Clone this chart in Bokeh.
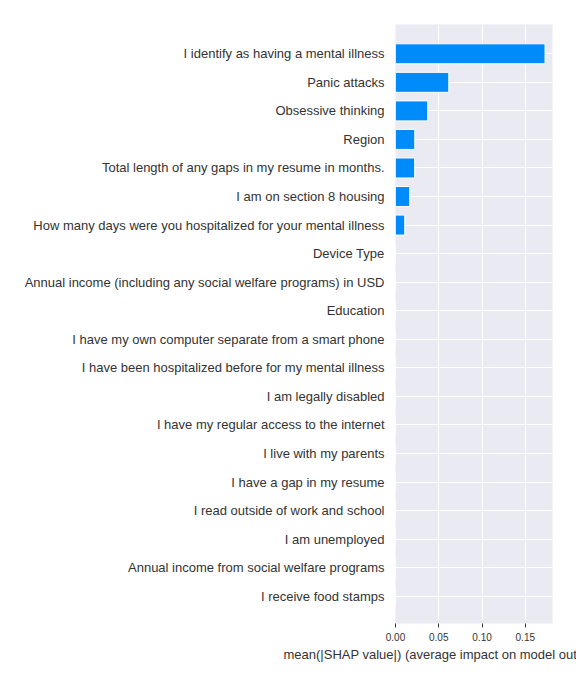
from bokeh.plotting import figure
from bokeh.models import Range1d, FixedTicker, NumeralTickFormatter, ColumnDataSource, Title
from bokeh.embed import file_html
from bokeh.resources import INLINE

features = [
    "I identify as having a mental illness",
    "Panic attacks",
    "Obsessive thinking",
    "Region",
    "Total length of any gaps in my resume in months.",
    "I am on section 8 housing",
    "How many days were you hospitalized for your mental illness",
    "Device Type",
    "Annual income (including any social welfare programs) in USD",
    "Education",
    "I have my own computer separate from a smart phone",
    "I have been hospitalized before for my mental illness",
    "I am legally disabled",
    "I have my regular access to the internet",
    "I live with my parents",
    "I have a gap in my resume",
    "I read outside of work and school",
    "I am unemployed",
    "Annual income from social welfare programs",
    "I receive food stamps",
]
mean_abs_shap = [0.1728, 0.0616, 0.0373, 0.0223, 0.0222, 0.0165, 0.0107,
                 0, 0, 0, 0, 0, 0, 0, 0, 0, 0, 0, 0, 0]
x_ticks = [0.0, 0.05, 0.10, 0.15]
# the axis title as it is visible in the reference (cut at the window edge)
x_label = "mean(|SHAP value|) (average impact on model out"

n = len(features)
ypos = [n - 1 - i for i in range(n)]
src = ColumnDataSource(dict(y=ypos, v=mean_abs_shap, name=features))

FONT = "Liberation Sans"
TXT = "#333333"

y_lo, y_hi = -0.956, n - 1 + 1.026
p = figure(width=576, height=684, output_backend="svg", toolbar_location=None,
           x_range=Range1d(0, max(mean_abs_shap) * 1.05),
           y_range=Range1d(y_lo, y_hi),
           min_border_left=395, min_border_right=24,
           min_border_top=24, min_border_bottom=61)
p.background_fill_color = "#EAEAF2"
p.border_fill_color = "white"
p.outline_line_color = None

p.hbar(y="y", right="v", left=0, height=0.7, source=src,
       fill_color="#008BFB", line_color="white", line_width=1)

# y axis
p.yaxis.ticker = FixedTicker(ticks=ypos)
p.yaxis.major_label_overrides = {y: f for y, f in zip(ypos, features)}
p.yaxis.axis_line_color = None
p.yaxis.major_tick_line_color = None
p.yaxis.major_tick_in = 0
p.yaxis.major_tick_out = 0
p.yaxis.minor_tick_line_color = None
p.yaxis.major_label_standoff = 11
p.yaxis.major_label_text_font = FONT
p.yaxis.major_label_text_font_size = "13px"
p.yaxis.major_label_text_color = TXT

# x axis
p.xaxis.ticker = FixedTicker(ticks=x_ticks)
p.xaxis.formatter = NumeralTickFormatter(format="0.00")
p.xaxis.axis_line_color = None
p.xaxis.major_tick_line_color = TXT
p.xaxis.major_tick_in = 0
p.xaxis.major_tick_out = 4
p.xaxis.minor_tick_line_color = None
p.xaxis.major_label_standoff = 5
p.xaxis.major_label_text_font = FONT
p.xaxis.major_label_text_font_size = "10px"
p.xaxis.major_label_text_color = TXT

# axis title below the axis, shifted left to where the reference shows it
ttl = Title(text=x_label, align="left", offset=-112,
            text_font=FONT, text_font_size="13px", text_color=TXT,
            text_font_style="normal", standoff=2)
p.add_layout(ttl, "below")

# grid
p.xgrid.grid_line_color = "white"
p.xgrid.grid_line_width = 1
p.ygrid.grid_line_color = "white"
p.ygrid.grid_line_width = 1

open("out.html", "w").write(file_html(p, INLINE))
